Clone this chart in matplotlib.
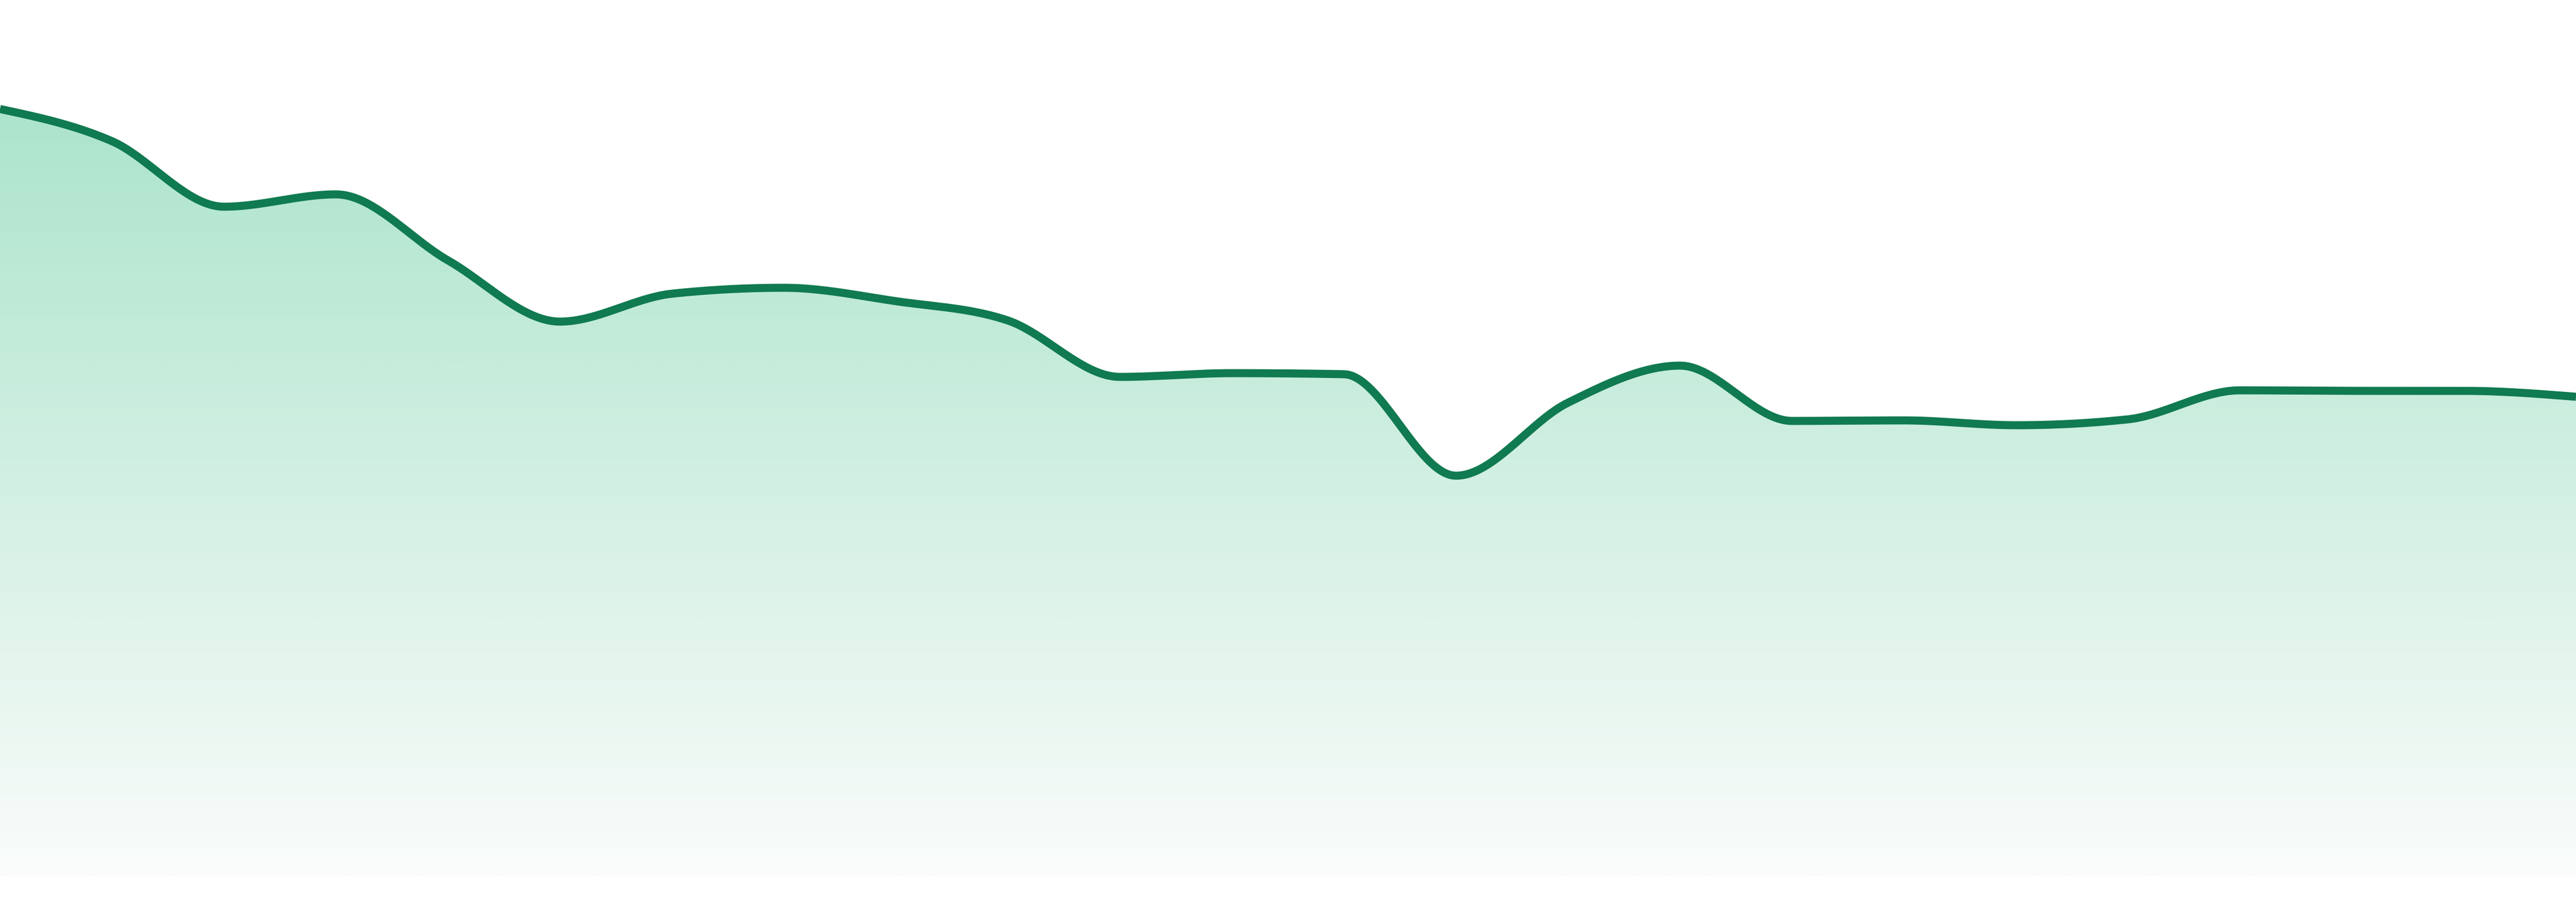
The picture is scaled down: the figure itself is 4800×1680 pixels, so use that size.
import numpy as np
import matplotlib
matplotlib.use("Agg")
import matplotlib.pyplot as plt
from matplotlib.colors import LinearSegmentedColormap

# ---- data ----
x_idx = list(range(24))
values = [142.9, 136.9, 124.7, 127.0, 114.7, 103.3, 108.5, 109.6, 107.1, 103.5,
          93.0, 93.7, 93.5, 74.6, 88.2, 95.1, 84.8, 84.9, 84.0, 85.1,
          90.5, 90.4, 90.4, 89.3]

line_color = "#107a50"
fill_top = (172/255, 228/255, 204/255)
fill_bottom = (250/255, 252/255, 251/255)


def monotone_x(x, y, n=40):
    """d3 curveMonotoneX-like smoothing, for drawing only."""
    x = np.asarray(x, float)
    y = np.asarray(y, float)
    h = np.diff(x)
    s = np.diff(y) / h
    m = np.zeros_like(y)
    for i in range(1, len(y) - 1):
        s0, s1 = s[i - 1], s[i]
        p = (s0 * h[i] + s1 * h[i - 1]) / (h[i - 1] + h[i])
        m[i] = (np.sign(s0) + np.sign(s1)) * min(abs(s0), abs(s1), 0.5 * abs(p)) if (np.sign(s0) + np.sign(s1)) != 0 else 0.0
    m[0] = (3 * s[0] - m[1]) / 2
    m[-1] = (3 * s[-1] - m[-2]) / 2
    xs, ys = [], []
    for i in range(len(x) - 1):
        t = np.linspace(0, 1, n, endpoint=(i == len(x) - 2))
        h00 = 2 * t**3 - 3 * t**2 + 1
        h10 = t**3 - 2 * t**2 + t
        h01 = -2 * t**3 + 3 * t**2
        h11 = t**3 - t**2
        xs.append(x[i] + t * h[i])
        ys.append(h00 * y[i] + h10 * h[i] * m[i] + h01 * y[i + 1] + h11 * h[i] * m[i + 1])
    return np.concatenate(xs), np.concatenate(ys)


fig = plt.figure(figsize=(48, 16.8), dpi=100)
ax = fig.add_axes([0, 0, 1, 1])
ax.set_xlim(x_idx[0], x_idx[-1])
ax.set_ylim(-4.8, 163.2)
ax.axis("off")

sx, sy = monotone_x(x_idx, values)

# gradient fill under curve
poly = ax.fill_between(sx, 0, sy, color="none", lw=0)
cmap = LinearSegmentedColormap.from_list("g", [fill_bottom, fill_top])
ymax = max(values)
grad = np.linspace(0, 1, 512).reshape(-1, 1)
im = ax.imshow(grad, extent=[x_idx[0], x_idx[-1], 0, ymax], origin="lower",
               aspect="auto", cmap=cmap, interpolation="bilinear", zorder=1)
path = poly.get_paths()[0]
im.set_clip_path(path, transform=ax.transData)

ax.plot(sx, sy, color=line_color, lw=10.8, solid_joinstyle="round",
        solid_capstyle="butt", zorder=3)

fig.savefig("out.png", dpi=100, facecolor="white")
